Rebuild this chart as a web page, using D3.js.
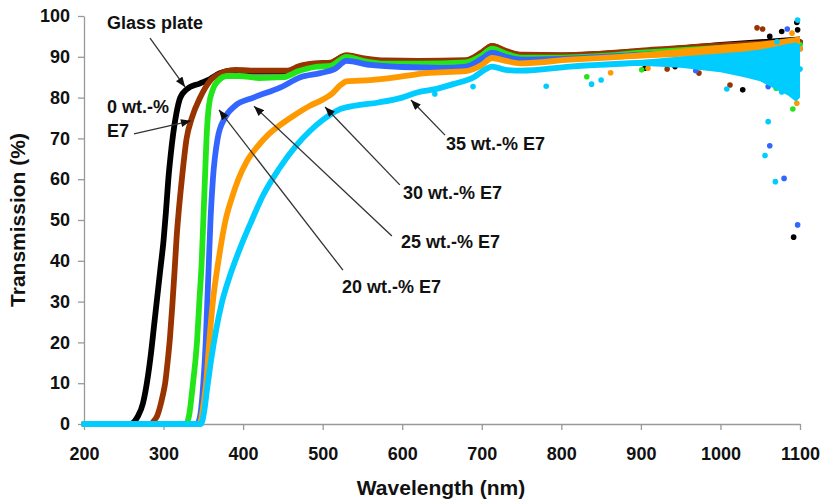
<!DOCTYPE html>
<html>
<head>
<meta charset="utf-8">
<script src="https://cdn.jsdelivr.net/npm/d3@7"></script>
<style>
  body { margin: 0; background: #fff; }
  svg { display: block; font-family: Arial, "Liberation Sans", sans-serif; }
  .axis path, .axis line { stroke: #999; stroke-width: 1.3; }
  .axis text { font-size: 18px; font-weight: bold; fill: #111; }
  .title { font-size: 21px; font-weight: bold; fill: #111; }
  .note { font-size: 18px; font-weight: bold; fill: #111; }
</style>
</head>
<body>
<svg width="823" height="501"></svg>
<script>
// wavelength (nm), transmission (%)
const glassPts = [[200,0],[258,0],[264,0.8],[268,2],[274,5],[279,10],[284,17],[288,24],[292,31],[296,38],[300,45],[303,52],[306,60],[309,66],[312,71],[316,76],[321,80],[329,82],[346,83.5],[358,84.5],[371,86],[385,86.6],[410,86.4],[456,86.4],[470,87.4],[480,88],[506,88.2],[530,90.2],[550,89.5],[580,88.9],[620,88.8],[680,89],[700,91],[713,92.6],[730,91.3],[750,90.4],[800,90.3],[850,90.7],[900,91.3],[950,92],[1000,92.6],[1050,93.1],[1100,93.6]];
const e0Pts = [[200,0],[284,0],[288,0.8],[292,2],[296,4.5],[299,7],[302,10],[305,15],[308,21],[311,29],[314,38],[316.5,46],[319,52],[323,60],[329,70],[335.5,75],[346,80],[358,84],[375,86.2],[390,86.8],[410,86.6],[456,86.6],[470,87.7],[490,88.4],[510,88.6],[530,90.4],[550,89.7],[580,89.1],[620,89],[680,89.2],[700,91.1],[713,92.7],[730,91.5],[750,90.5],[800,90.4],[850,90.8],[900,91.5],[1000,92.8],[1100,93.6]];
const e20Pts = [[200,0],[328,0],[332,2],[337,10],[342,20],[345,30],[348,40],[350,50],[352,60],[354,70],[357,78],[362,82],[368,84],[380,85.3],[395,85.3],[420,84.8],[450,85],[470,86.5],[490,87.5],[510,87.8],[530,90],[550,89],[580,88.3],[620,88.3],[680,88.6],[700,90.3],[713,92],[730,90.8],[750,89.8],[800,89.8],[850,90.2],[900,91],[1000,92.2],[1100,93]];
const e25Pts = [[200,0],[342,0],[346,2],[350,10],[353,20],[355,30],[357,40],[359,50],[362,60],[368,70],[377,75],[390,78],[413,80],[447,82.5],[472,85],[497,86],[515,87],[530,89],[560,88],[600,87.5],[650,87.3],[680,87.6],[700,89.5],[713,91],[730,90],[750,89.3],[800,89.5],[850,90],[900,90.5],[1000,91.5],[1100,92]];
const e30Pts = [[200,0],[345,0],[347,1],[351,6],[354,11],[357,19],[362,30],[369,40],[378,50],[386,55.5],[394,60],[405,64.5],[418,68],[432,71],[448,73.5],[463,75.5],[484,78],[500,79.5],[512,81],[522,83],[530,84],[560,84.3],[593,85],[630,86],[680,86.5],[700,88],[713,89.7],[730,89],[748,88.4],[811,89.3],[874,90],[950,91],[1000,91.5],[1050,92],[1100,92]];
const e35Pts = [[200,0],[347,0],[351,3],[355,9],[360,16],[366,23],[373,29.5],[382,35.5],[395,42.5],[410,49.5],[425,56],[445,62.5],[467,68.3],[485,72],[500,74.5],[520,77],[540,78],[570,78.8],[600,80],[620,81.3],[640,82],[664,83.3],[690,85],[705,87],[713,87.6],[730,86.8],[750,86.6],[811,87.6],[874,88.3],[950,88.8],[1000,89],[1050,88.5],[1100,87]];

// scatter of the noisy long-wave end: [nm, low %, high %]
const glassBand = [[900,90.7,92.0],[950,91.2,92.8],[1000,91.8,93.6],[1050,92.2,94.3],[1100,92.3,95]];
const e30Band = [[874,89.4,90.6],[900,89.6,91.0],[950,90,92.0],[1000,90.1,92.9],[1050,90,93.7],[1080,89.5,94.4],[1100,87,95]];
const e35Band = [[874,87.7,88.9],[900,87.8,89.2],[950,87.3,90.1],[1000,86.2,90.8],[1030,85,91.3],[1050,84,91.8],[1070,82,92.5],[1085,80.5,93.2],[1095,79,93.5],[1100,80,93]];

// stray points
const glassDots = [[1062,95],[1077,96.2],[1096,98.4],[1097,96.6],[1028,81.9],[1092,45.8],[943,87.6],[905,87.2]];
const e0Dots = [[1046,97.1],[1053,96.8],[933,87],[973,86],[1012,83.1]];
const e20Dots = [[832,85.1],[901,86.8],[1070,82.3],[1091,77.2]];
const e25Dots = [[1084,96.8],[969,86.6],[1060,82.7],[1062,68.2],[1080,60.2],[1097,48.8]];
const e30Dots = [[862,86.1],[909,87.2],[1096,78.6],[1090,95.8]];
const e35Dots = [[1097,99],[1071,93.7],[781,82.8],[838,83.3],[850,84.3],[1008,82.1],[1077,81.4],[1089,81.1],[1060,74.1],[1056,65.8],[1069,59.4],[641,80.9],[689,82.7]];

const xTicks = [200,300,400,500,600,700,800,900,1000,1100];
const yTicks = [0,10,20,30,40,50,60,70,80,90,100];

// label lines, text anchor [nm,%], arrow from [nm,%] to [nm,%]
const notes = [
  { lines: ['Glass plate'], at: [229,96.8], from: [283,94.6], to: [327,82.6] },
  { lines: ['0 wt.-%', 'E7'], at: [229,76.3], from: [262.8,71.1], to: [334.5,74.3] },
  { lines: ['20 wt.-% E7'], at: [524.3,32.2], from: [525.5,37.7], to: [369.7,77] },
  { lines: ['25 wt.-% E7'], at: [598.4,43.1], from: [587,46.1], to: [413.7,77.9] },
  { lines: ['30 wt.-% E7'], at: [601,55.1], from: [597,58.6], to: [503,77.7] },
  { lines: ['35 wt.-% E7'], at: [655,67.2], from: [653.8,70.8], to: [611,79.4] }
];

const series = [
  { pts: glassPts, band: glassBand, dots: glassDots, color: '#000000' },
  { pts: e0Pts, band: null, dots: e0Dots, color: '#993300' },
  { pts: e20Pts, band: null, dots: e20Dots, color: '#22e61a' },
  { pts: e25Pts, band: null, dots: e25Dots, color: '#3366ff' },
  { pts: e30Pts, band: e30Band, dots: e30Dots, color: '#ff9900' },
  { pts: e35Pts, band: e35Band, dots: e35Dots, color: '#00ccff' }
];

const svg = d3.select('svg');
const margin = { top: 16, right: 23, bottom: 77, left: 84 };
const width = 823 - margin.left - margin.right;
const height = 501 - margin.top - margin.bottom;

const x = d3.scaleLinear().domain([200, 1100]).range([0, width]);
const y = d3.scaleLinear().domain([0, 100]).range([height, 0]);

svg.append('defs').append('marker')
  .attr('id', 'head')
  .attr('markerUnits', 'userSpaceOnUse')
  .attr('viewBox', '0 0 10 8')
  .attr('refX', 10).attr('refY', 4)
  .attr('markerWidth', 11).attr('markerHeight', 8)
  .attr('orient', 'auto')
  .append('path')
  .attr('d', 'M0,0L10,4L0,8Z')
  .attr('fill', '#111');

const g = svg.append('g')
  .attr('transform', `translate(${margin.left},${margin.top})`);

g.append('g')
  .attr('class', 'axis')
  .attr('transform', `translate(0,${height})`)
  .call(d3.axisBottom(x).tickValues(xTicks).tickFormat(d3.format('d'))
    .tickSize(6).tickSizeOuter(0).tickPadding(17));

g.append('g')
  .attr('class', 'axis')
  .call(d3.axisLeft(y).tickValues(yTicks).tickFormat(d3.format('d'))
    .tickSize(6).tickSizeOuter(0).tickPadding(8));

const line = d3.line()
  .x(d => x(d[0]))
  .y(d => y(d[1]))
  .curve(d3.curveMonotoneX);

const band = d3.area()
  .x(d => x(d[0]))
  .y0(d => y(d[1]))
  .y1(d => y(d[2]));

const plot = g.append('g');

series.forEach(s => {
  plot.append('path')
    .attr('d', line(s.pts))
    .attr('fill', 'none')
    .attr('stroke', s.color)
    .attr('stroke-width', 5.8)
    .attr('stroke-linecap', 'round')
    .attr('stroke-linejoin', 'round');

  if (s.band) {
    plot.append('path')
      .attr('d', band(s.band))
      .attr('fill', s.color);
  }

  plot.selectAll(null)
    .data(s.dots)
    .enter().append('circle')
    .attr('cx', d => x(d[0]))
    .attr('cy', d => y(d[1]))
    .attr('r', 2.8)
    .attr('fill', s.color);
});

// annotations
const ann = g.append('g');
notes.forEach(n => {
  ann.append('line')
    .attr('x1', x(n.from[0])).attr('y1', y(n.from[1]))
    .attr('x2', x(n.to[0])).attr('y2', y(n.to[1]))
    .attr('stroke', '#333')
    .attr('stroke-width', 1.3)
    .attr('marker-end', 'url(#head)');

  const t = ann.append('text')
    .attr('class', 'note')
    .attr('x', x(n.at[0]))
    .attr('y', y(n.at[1]));
  t.selectAll('tspan')
    .data(n.lines)
    .enter().append('tspan')
    .attr('x', x(n.at[0]))
    .attr('dy', (d, i) => i === 0 ? 0 : 24)
    .text(d => d);
});

svg.append('text')
  .attr('class', 'title')
  .attr('text-anchor', 'middle')
  .attr('x', margin.left + width / 2 - 1)
  .attr('y', 495)
  .text('Wavelength (nm)');

svg.append('text')
  .attr('class', 'title')
  .attr('text-anchor', 'middle')
  .attr('transform', `translate(25,${margin.top + height / 2}) rotate(-90)`)
  .text('Transmission (%)');
</script>
</body>
</html>
